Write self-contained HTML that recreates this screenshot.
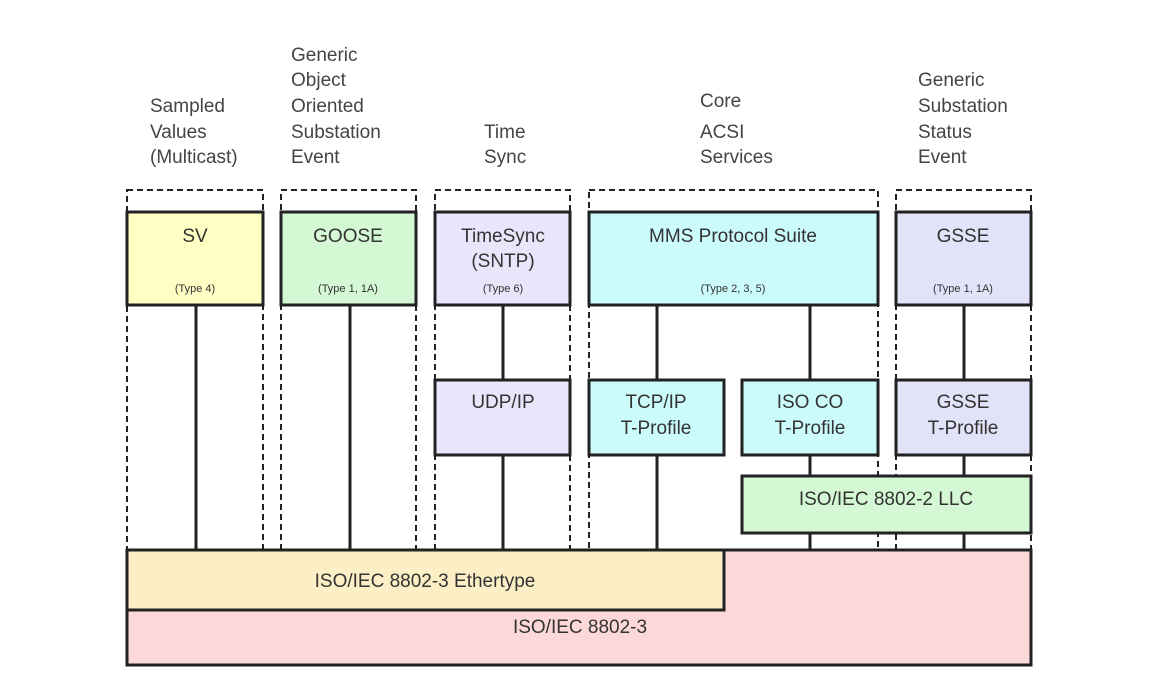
<!DOCTYPE html>
<html><head><meta charset="utf-8"><style>
body{margin:0;background:#fff;}
svg{display:block;font-family:"Liberation Sans",sans-serif;}
.h{font-size:19px;fill:#444;}
.t{font-size:19px;fill:#333;text-anchor:middle;}
.s{font-size:11px;fill:#333;text-anchor:middle;}
.d{fill:none;stroke:#222;stroke-width:2;stroke-dasharray:6,4;}
.b{stroke:#222;stroke-width:3;}
.l{stroke:#222;stroke-width:3;}
</style></head><body>
<svg width="1169" height="685" viewBox="0 0 1169 685">
<rect width="1169" height="685" fill="#fff"/>
<g class="h">
<text x="150" y="112">Sampled</text><text x="150" y="138">Values</text><text x="150" y="163">(Multicast)</text>
<text x="291" y="61">Generic</text><text x="291" y="86">Object</text><text x="291" y="112">Oriented</text><text x="291" y="138">Substation</text><text x="291" y="163">Event</text>
<text x="484" y="138">Time</text><text x="484" y="163">Sync</text>
<text x="700" y="107">Core</text><text x="700" y="138">ACSI</text><text x="700" y="163">Services</text>
<text x="918" y="86">Generic</text><text x="918" y="112">Substation</text><text x="918" y="138">Status</text><text x="918" y="163">Event</text>
</g>
<rect class="d" x="127" y="190" width="136" height="360"/>
<rect class="d" x="281" y="190" width="135" height="360"/>
<rect class="d" x="435" y="190" width="135" height="360"/>
<rect class="d" x="589" y="190" width="289" height="360"/>
<rect class="d" x="896" y="190" width="135" height="360"/>
<g class="l">
<line x1="196" y1="305" x2="196" y2="550"/>
<line x1="350" y1="305" x2="350" y2="550"/>
<line x1="503" y1="305" x2="503" y2="550"/>
<line x1="657" y1="305" x2="657" y2="550"/>
<line x1="810" y1="305" x2="810" y2="550"/>
<line x1="964" y1="305" x2="964" y2="550"/>
</g>
<rect class="b" x="127" y="212" width="136" height="93" fill="#ffffc4"/>
<rect class="b" x="281" y="212" width="135" height="93" fill="#d4f7d4"/>
<rect class="b" x="435" y="212" width="135" height="93" fill="#e8e6fa"/>
<rect class="b" x="589" y="212" width="289" height="93" fill="#ccfbfb"/>
<rect class="b" x="896" y="212" width="135" height="93" fill="#e2e2f8"/>
<text class="t" x="195" y="242">SV</text><text class="s" x="195" y="292">(Type 4)</text>
<text class="t" x="348" y="242">GOOSE</text><text class="s" x="348" y="292">(Type 1, 1A)</text>
<text class="t" x="503" y="242">TimeSync</text><text class="t" x="503" y="267">(SNTP)</text><text class="s" x="503" y="292">(Type 6)</text>
<text class="t" x="733" y="242">MMS Protocol Suite</text><text class="s" x="733" y="292">(Type 2, 3, 5)</text>
<text class="t" x="963" y="242">GSSE</text><text class="s" x="963" y="292">(Type 1, 1A)</text>
<rect class="b" x="435" y="380" width="135" height="75" fill="#e8e6fa"/>
<rect class="b" x="589" y="380" width="135" height="75" fill="#ccfbfb"/>
<rect class="b" x="742" y="380" width="136" height="75" fill="#ccfbfb"/>
<rect class="b" x="896" y="380" width="135" height="75" fill="#e2e2f8"/>
<text class="t" x="503" y="408">UDP/IP</text>
<text class="t" x="656" y="408">TCP/IP</text><text class="t" x="656" y="434">T-Profile</text>
<text class="t" x="810" y="408">ISO CO</text><text class="t" x="810" y="434">T-Profile</text>
<text class="t" x="963" y="408">GSSE</text><text class="t" x="963" y="434">T-Profile</text>
<rect class="b" x="742" y="476" width="289" height="57" fill="#d4f7d4"/>
<text class="t" x="886" y="505">ISO/IEC 8802-2 LLC</text>
<rect class="b" x="127" y="550" width="904" height="115" fill="#fdd8d8"/>
<rect class="b" x="127" y="550" width="597" height="60" fill="#fcefc6"/>
<text class="t" x="425" y="587">ISO/IEC 8802-3 Ethertype</text>
<text class="t" x="580" y="633">ISO/IEC 8802-3</text>
</svg>
</body></html>
